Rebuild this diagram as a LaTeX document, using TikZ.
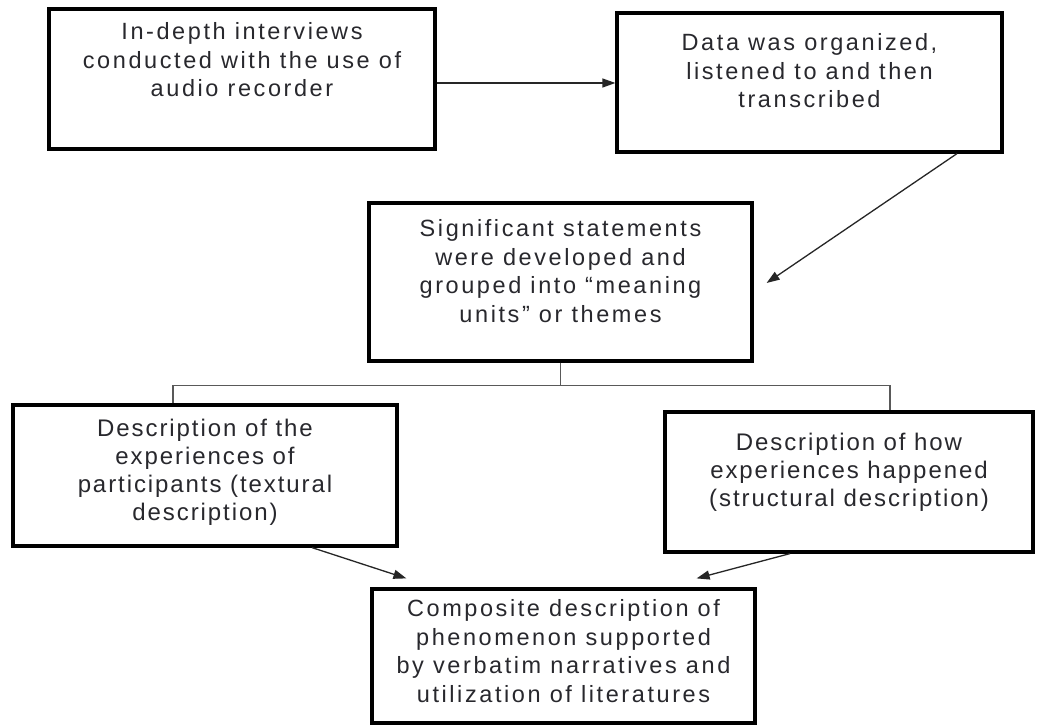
\documentclass[tikz,border=0pt]{standalone}
\usepackage{fontspec}
\setmainfont{Liberation Sans}
\newfontfamily\wideA[LetterSpace=11]{Liberation Sans}
\newfontfamily\wideB[LetterSpace=8]{Liberation Sans}
\usetikzlibrary{arrows.meta,calc}
\definecolor{txtc}{RGB}{40,40,45}
\begin{document}
\begin{tikzpicture}[x=1pt,y=-1pt,
  box/.style={draw=black, line width=3.2pt, inner sep=0pt, fill=white},
  txt/.style={align=center, inner sep=0pt, anchor=north, text=txtc, font=\wideA\fontsize{23.5}{28.6}\selectfont},
  txtb/.style={align=center, inner sep=0pt, anchor=north, text=txtc, font=\wideB\fontsize{24}{27.8}\selectfont},
  arr/.style={draw=black!85, line width=1.3pt, -{Triangle[length=13pt,width=9pt]}},
  conn/.style={draw=black!65, line width=1.6pt}]
\fill[white] (0,0) rectangle (1039,727);
\useasboundingbox (0,0) rectangle (1039,727);

\node[box, minimum width=386pt, minimum height=140pt] (b1) at (242,79) {};
\node[box, minimum width=385pt, minimum height=139pt] (b2) at (809.5,82.5) {};
\node[box, minimum width=383pt, minimum height=158pt] (b3) at (560.5,282) {};
\node[box, minimum width=384pt, minimum height=141pt] (b4) at (205,475.5) {};
\node[box, minimum width=368pt, minimum height=140pt] (b5) at (849,482) {};
\node[box, minimum width=383pt, minimum height=134pt] (b6) at (563.5,656) {};

\node[txt] (t1) at ([yshift=-15pt]b1.north) {In-depth interviews\\conducted with the use of\\audio recorder};
\node[txt] (t2) at ([yshift=-22pt]b2.north) {Data was organized,\\listened to and then\\transcribed};
\node[txt] (t3) at ([yshift=-18pt]b3.north) {Significant statements\\were developed and\\grouped into “meaning\\units” or themes};
\node[txtb] (t4) at ([yshift=-16pt]b4.north) {Description of the\\experiences of\\participants (textural\\description)};
\node[txtb] (t5) at ([yshift=-23pt]b5.north) {Description of how\\experiences happened\\(structural description)};
\node[txt] (t6) at ([yshift=-12pt]b6.north) {Composite description of\\phenomenon supported\\by verbatim narratives and\\utilization of literatures};

\draw[arr] ([yshift=-4pt]b1.east) -- ([yshift=-4pt]b1.east -| b2.west);
\draw[arr] ([xshift=147.5pt]b2.south) -- ([xshift=13pt,yshift=-1pt]b3.east);
\draw[conn] (b3.south) -- ++(0,23) coordinate (j);
\draw[conn] ([xshift=-32pt]b4.north) |- (j) -| ([xshift=41pt]b5.north);
\draw[arr] ([xshift=107pt]b4.south) -- ([xshift=36pt,yshift=9pt]b6.north west);
\draw[arr] ([xshift=-59pt]b5.south) -- ([xshift=-60pt,yshift=9pt]b6.north east);
\end{tikzpicture}
\end{document}
